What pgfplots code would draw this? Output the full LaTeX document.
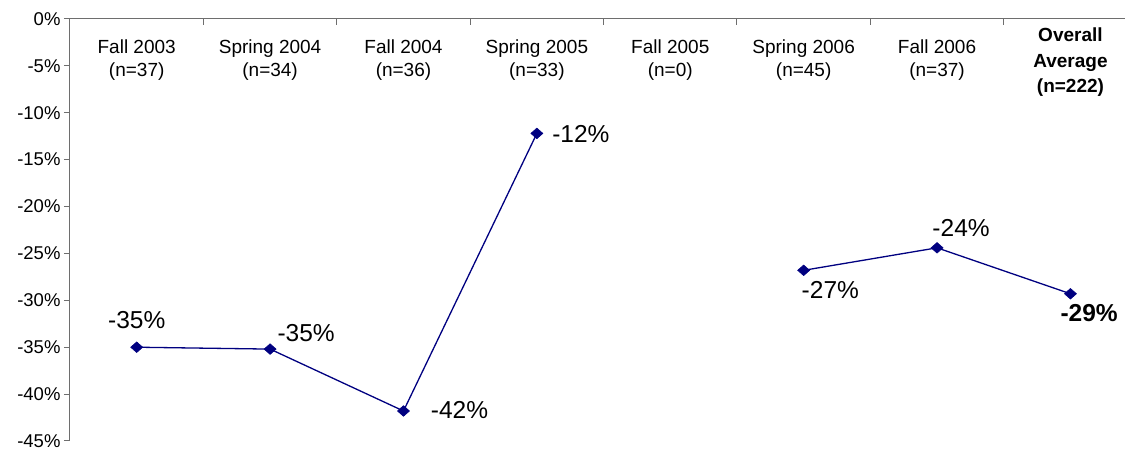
\documentclass[border=0pt]{standalone}
\usepackage{pgfplots}
\pgfplotsset{compat=1.18}
\usepackage{fontspec}
\setmainfont{Liberation Sans}
\definecolor{navyline}{HTML}{000080}
\definecolor{axgray}{HTML}{6E6E6E}
\begin{document}
\begin{tikzpicture}
\begin{axis}[
  scale only axis,
  width=1067.2pt, height=422pt,
  xmin=-0.5, xmax=7.5,
  ymin=-45, ymax=0,
  axis x line=top, axis y line=left,
  axis line style={draw=axgray, line width=1pt, -},
  clip=false,
  ytick={0,-5,-10,-15,-20,-25,-30,-35,-40,-45},
  yticklabels={0\%,-5\%,-10\%,-15\%,-20\%,-25\%,-30\%,-35\%,-40\%,-45\%},
  yticklabel style={font=\fontsize{18.5}{22}\selectfont, text=black},
  y tick style={draw=axgray, line width=1pt},
  xtick={0.5,1.5,2.5,3.5,4.5,5.5,6.5},
  xticklabels={},
  x tick style={draw=axgray, line width=1pt},
  major tick length=6pt,
  ytick align=outside,
  xtick align=inside,
  unbounded coords=jump,
]
\addplot[navyline, line width=1.3pt, mark=diamond*, mark size=8pt,
  mark options={fill=navyline, draw=navyline, line width=0.6pt, yscale=0.66}]
  coordinates {(0,-35.0) (1,-35.2) (2,-41.8) (3,-12.2) (4,nan) (5,-26.8) (6,-24.4) (7,-29.3)};
% category labels
\begin{scope}[every node/.style={align=center, font=\fontsize{19}{23}\selectfont}]
\node at (axis cs:0,-4.35) {Fall 2003\\(n=37)};
\node at (axis cs:1,-4.35) {Spring 2004\\(n=34)};
\node at (axis cs:2,-4.35) {Fall 2004\\(n=36)};
\node at (axis cs:3,-4.35) {Spring 2005\\(n=33)};
\node at (axis cs:4,-4.35) {Fall 2005\\(n=0)};
\node at (axis cs:5,-4.35) {Spring 2006\\(n=45)};
\node at (axis cs:6,-4.35) {Fall 2006\\(n=37)};
\end{scope}
\node[align=center, font=\bfseries\fontsize{19}{25.5}\selectfont] at (axis cs:7,-4.6) {Overall\\Average\\(n=222)};
% data labels
\begin{scope}[every node/.style={font=\fontsize{24.5}{28}\selectfont}]
\node at (axis cs:0,-32.1) {-35\%};
\node at (axis cs:1.27,-33.5) {-35\%};
\node at (axis cs:2.42,-41.7) {-42\%};
\node at (axis cs:3.33,-12.26) {-12\%};
\node at (axis cs:5.20,-28.9) {-27\%};
\node at (axis cs:6.18,-22.3) {-24\%};
\node[font=\bfseries\fontsize{24.5}{28}\selectfont] at (axis cs:7.14,-31.35) {-29\%};
\end{scope}
\end{axis}
\pgfresetboundingbox
\useasboundingbox (current axis.south west) ++(-70pt,-8pt) rectangle ++(1125pt,449pt);
\end{tikzpicture}
\end{document}
